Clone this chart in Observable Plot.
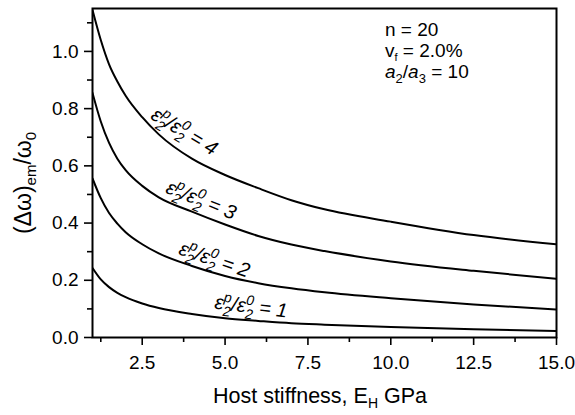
<!DOCTYPE html>
<html><head><meta charset="utf-8">
<script src="https://cdn.jsdelivr.net/npm/d3@7"></script>
<script src="https://cdn.jsdelivr.net/npm/@observablehq/plot@0.6"></script>
<style>body{margin:0;background:#fff;} #chart svg{display:block}</style>
</head><body><div id="chart"></div>
<script>
// Host stiffness E_H (GPa)
const stiffness = [1, 1.25, 1.5, 1.75, 2, 2.5, 3, 4, 5, 6, 7, 8, 10, 12.5, 15];
// (Δω)em/ω0 for ε2p/ε2o = 1..4
const ratio1 = [0.243, 0.203, 0.176, 0.156, 0.141, 0.119, 0.103, 0.082, 0.067, 0.058, 0.050, 0.045, 0.037, 0.029, 0.023];
const ratio2 = [0.556, 0.487, 0.435, 0.398, 0.368, 0.326, 0.294, 0.250, 0.215, 0.190, 0.172, 0.158, 0.137, 0.115, 0.098];
const ratio3 = [0.855, 0.755, 0.680, 0.625, 0.585, 0.530, 0.490, 0.440, 0.395, 0.355, 0.325, 0.302, 0.266, 0.233, 0.205];
const ratio4 = [1.145, 1.040, 0.955, 0.895, 0.845, 0.770, 0.710, 0.625, 0.568, 0.522, 0.480, 0.448, 0.405, 0.358, 0.326];
const seriesNames = ["1", "2", "3", "4"];
const xMajorTicks = [2.5, 5, 7.5, 10, 12.5, 15];
const xMinorTicks = [1.25, 3.75, 6.25, 8.75, 11.25, 13.75];
const yMajorTicks = [0, 0.2, 0.4, 0.6, 0.8, 1.0];
const yMinorTicks = [0.1, 0.3, 0.5, 0.7, 0.9, 1.1];

const allSeries = [ratio1, ratio2, ratio3, ratio4];
const rows = [];
allSeries.forEach((vals, k) => vals.forEach((v, i) => rows.push({E: stiffness[i], v, s: seriesNames[k]})));

const FONT = "'Liberation Sans', Arial, Helvetica, sans-serif";

const plot = Plot.plot({
  width: 575, height: 415,
  marginLeft: 92, marginRight: 19, marginTop: 8, marginBottom: 78,
  style: {fontFamily: FONT, fontSize: "19px", color: "black", background: "white", overflow: "visible"},
  x: {domain: [1, 15]},
  y: {domain: [0, 1.15]},
  marks: [
    Plot.line(rows, {x: "E", y: "v", z: "s", curve: "monotone-x", stroke: "black", strokeWidth: 2, clip: true}),
    Plot.axisX({ticks: xMajorTicks, tickSize: 8, tickPadding: 10, tickFormat: d => d.toFixed(1), label: null, strokeWidth: 1.6, fontSize: 19}),
    Plot.axisX({ticks: xMinorTicks, tickSize: 5, tickFormat: () => "", label: null, strokeWidth: 1.6}),
    Plot.axisY({ticks: yMajorTicks, tickSize: 8, tickPadding: 6, tickFormat: d => d.toFixed(1), label: null, strokeWidth: 1.6, fontSize: 19}),
    Plot.axisY({ticks: yMinorTicks, tickSize: 5, tickFormat: () => "", label: null, strokeWidth: 1.6}),
    Plot.frame({stroke: "black", strokeWidth: 2})
  ]
});
document.getElementById("chart").appendChild(plot);

const sx = plot.scale("x").apply, sy = plot.scale("y").apply;
const svg = d3.select(plot);

// curve labels (placement in data units)
const labelPlace = [
  {s: "4", E: 3.8, v: 0.72, rot: 31},
  {s: "3", E: 4.3, v: 0.48, rot: 22},
  {s: "2", E: 4.7, v: 0.272, rot: 19},
  {s: "1", E: 5.8, v: 0.108, rot: 7}
];
const lg = svg.append("g").attr("font-family", FONT).attr("font-size", 20).attr("font-style", "italic");
labelPlace.forEach(l => {
  const t = lg.append("text").attr("text-anchor", "middle")
    .attr("transform", `translate(${sx(l.E)},${sy(l.v)}) rotate(${l.rot})`).attr("dy", "0.35em");
  t.append("tspan").text("ε");
  t.append("tspan").attr("font-size", 14).attr("dy", -8).text("p");
  t.append("tspan").attr("font-size", 14).attr("dx", -7.5).attr("dy", 14).text("2");
  t.append("tspan").attr("dy", -6).text("/ε");
  t.append("tspan").attr("font-size", 14).attr("dy", -8).text("0");
  t.append("tspan").attr("font-size", 14).attr("dx", -7.5).attr("dy", 14).text("2");
  t.append("tspan").attr("dy", -6).text(" = " + l.s);
});

// x axis title
const xt = svg.append("text").attr("font-family", FONT).attr("font-size", 21.5).attr("text-anchor", "middle")
  .attr("x", 320).attr("y", 403);
xt.append("tspan").text("Host stiffness, E");
xt.append("tspan").attr("font-size", 14).attr("dy", 5).text("H");
xt.append("tspan").attr("dy", -5).text(" GPa");

// y axis title
const yt = svg.append("text").attr("font-family", FONT).attr("font-size", 23).attr("text-anchor", "middle")
  .attr("transform", "translate(31,183) rotate(-90)");
yt.append("tspan").text("(Δω)");
yt.append("tspan").attr("font-size", 15).attr("dy", 5).text("em");
yt.append("tspan").attr("dy", -5).text("/ω");
yt.append("tspan").attr("font-size", 15).attr("dy", 5).text("0");

// parameter annotation
const ag = svg.append("g").attr("font-family", FONT).attr("font-size", 19).attr("text-anchor", "start");
ag.append("text").attr("x", 385).attr("y", 36).text("n = 20");
const a2 = ag.append("text").attr("x", 385).attr("y", 57);
a2.append("tspan").text("v");
a2.append("tspan").attr("font-size", 11).attr("dy", 4).text("f");
a2.append("tspan").attr("dy", -4).text(" = 2.0%");
const a3 = ag.append("text").attr("x", 385).attr("y", 78);
a3.append("tspan").attr("font-style", "italic").text("a");
a3.append("tspan").attr("font-size", 13).attr("dy", 5).text("2");
a3.append("tspan").attr("dy", -5).text("/");
a3.append("tspan").attr("font-style", "italic").text("a");
a3.append("tspan").attr("font-size", 13).attr("dy", 5).text("3");
a3.append("tspan").attr("dy", -5).text(" = 10");
</script>
</body></html>
